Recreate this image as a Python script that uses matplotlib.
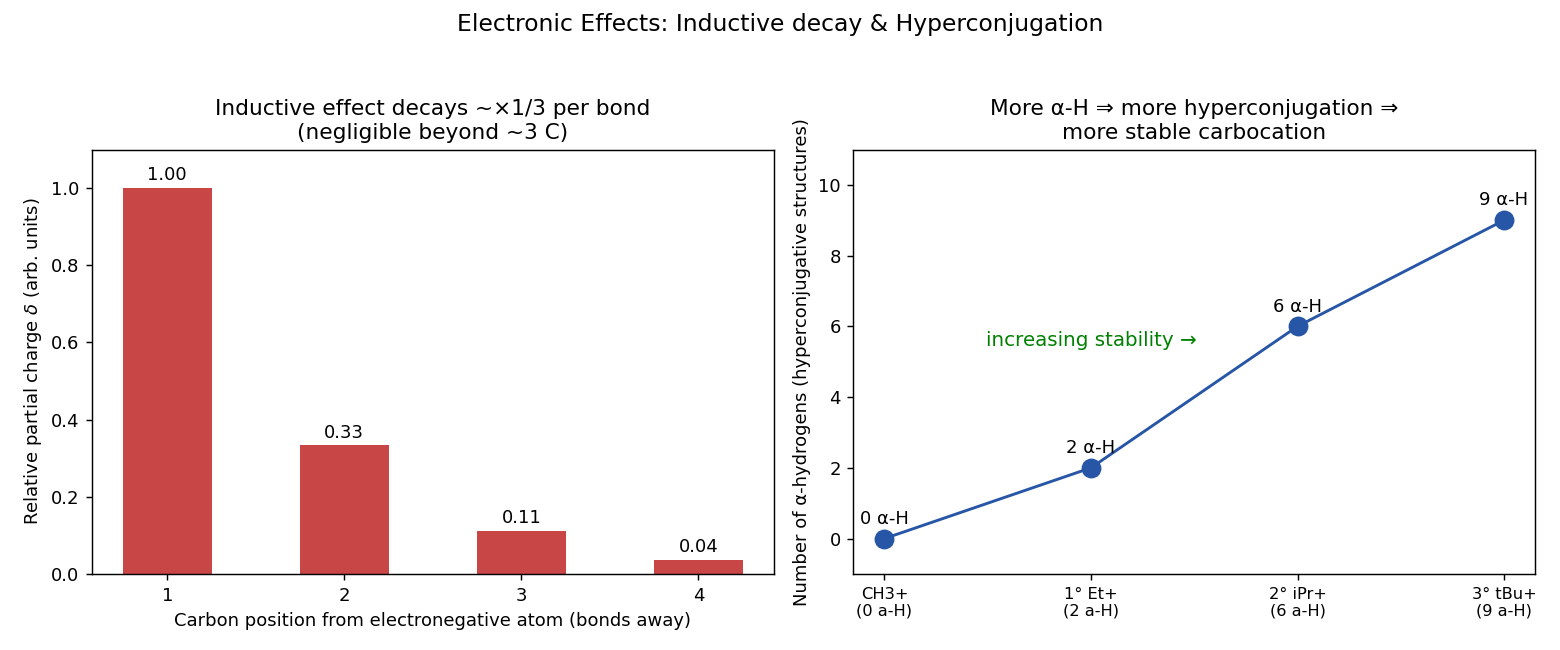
import matplotlib
matplotlib.use("Agg")
import matplotlib.pyplot as plt

# inductive effect data
positions = [1, 2, 3, 4]
charges = [1.0, 1/3, 1/9, 1/27]
charge_labels = ["1.00", "0.33", "0.11", "0.04"]

# hyperconjugation data
cations = ["CH3+\n(0 a-H)", "1° Et+\n(2 a-H)", "2° iPr+\n(6 a-H)", "3° tBu+\n(9 a-H)"]
alpha_h = [0, 2, 6, 9]
point_labels = ["0 α-H", "2 α-H", "6 α-H", "9 α-H"]

fig, (ax, ax1) = plt.subplots(1, 2, figsize=(12, 5), dpi=130)

ax.bar(positions, charges, width=0.5, color='#c94646')
for p, c, lab in zip(positions, charges, charge_labels):
    ax.annotate(lab, (p, c), textcoords="offset points", xytext=(0, 2),
                ha='center', va='bottom', fontsize=10)
ax.set_ylim(0, 1.1)
ax.set_xticks(positions)
ax.set_xlabel("Carbon position from electronegative atom (bonds away)")
ax.set_ylabel(r"Relative partial charge $\delta$ (arb. units)")
ax.set_title("Inductive effect decays ~×1/3 per bond\n(negligible beyond ~3 C)", fontsize=12)

x = list(range(len(cations)))
ax1.plot(x, alpha_h, '-o', color='#2756a6', markersize=10, linewidth=1.6)
for xi, h, lab in zip(x, alpha_h, point_labels):
    ax1.annotate(lab, (xi, h), textcoords="offset points", xytext=(0, 6),
                 ha='center', va='bottom', fontsize=10)
ax1.set_xticks(x)
ax1.set_xticklabels(cations, fontsize=9)
ax1.set_ylim(-1, 11)
ax1.set_ylabel("Number of α-hydrogens (hyperconjugative structures)")
ax1.set_title("More α-H ⇒ more hyperconjugation ⇒\nmore stable carbocation", fontsize=12)
ax1.text(1.0, 5.6, "increasing stability →", color='green', fontsize=11,
         ha='center', va='center')

fig.suptitle("Electronic Effects: Inductive decay & Hyperconjugation", fontsize=13)
fig.subplots_adjust(left=0.059, right=0.984, bottom=0.117, top=0.77, wspace=0.117)
fig.savefig("out.png")
